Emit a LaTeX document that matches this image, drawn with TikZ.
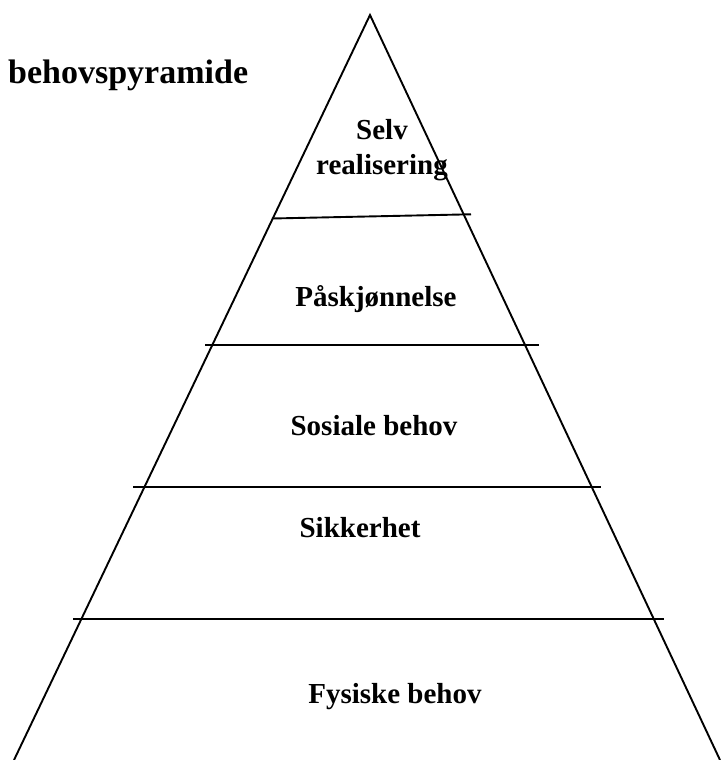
\documentclass[tikz,border=0pt]{standalone}
\usepackage{fontspec}
\setmainfont{Liberation Serif}
\begin{document}
\begin{tikzpicture}[x=1pt,y=-1pt,
  edge/.style={line width=1.9pt,black},
  lvl/.style={font=\fontsize{29}{35}\selectfont\bfseries,anchor=base,inner sep=0pt,align=center},
  ttl/.style={font=\fontsize{34}{40}\selectfont\bfseries,anchor=base west,inner sep=0pt}]
  \useasboundingbox (0,0) rectangle (720,760);

  % outline of the pyramid
  \coordinate (top) at (370,15);
  \coordinate (bl) at (14,760);
  \coordinate (br) at (720,760);
  \draw[edge] (bl) -- (top) -- (br);

  % dividers between the levels
  \coordinate (d1a) at (272,218.5);
  \coordinate (d1b) at (471,214.3);
  \coordinate (d2a) at (205,344.7);
  \coordinate (d2b) at (539,344.7);
  \coordinate (d3a) at (133,486.7);
  \coordinate (d3b) at (601,486.7);
  \coordinate (d4a) at (73,619);
  \coordinate (d4b) at (664,619);
  \draw[edge] (d1a) -- (d1b);
  \draw[edge] (d2a) -- (d2b);
  \draw[edge] (d3a) -- (d3b);
  \draw[edge] (d4a) -- (d4b);

  % labels
  \node[ttl] (title) at (8,83) {behovspyramide};
  \node[lvl] (l5) at (382,174) {Selv\\realisering};
  \node[lvl] (l4) at (376,306) {Påskjønnelse};
  \node[lvl] (l3) at (374,435) {Sosiale behov};
  \node[lvl] (l2) at (360,537) {Sikkerhet};
  \node[lvl] (l1) at (395,703) {Fysiske behov};
\end{tikzpicture}
\end{document}
